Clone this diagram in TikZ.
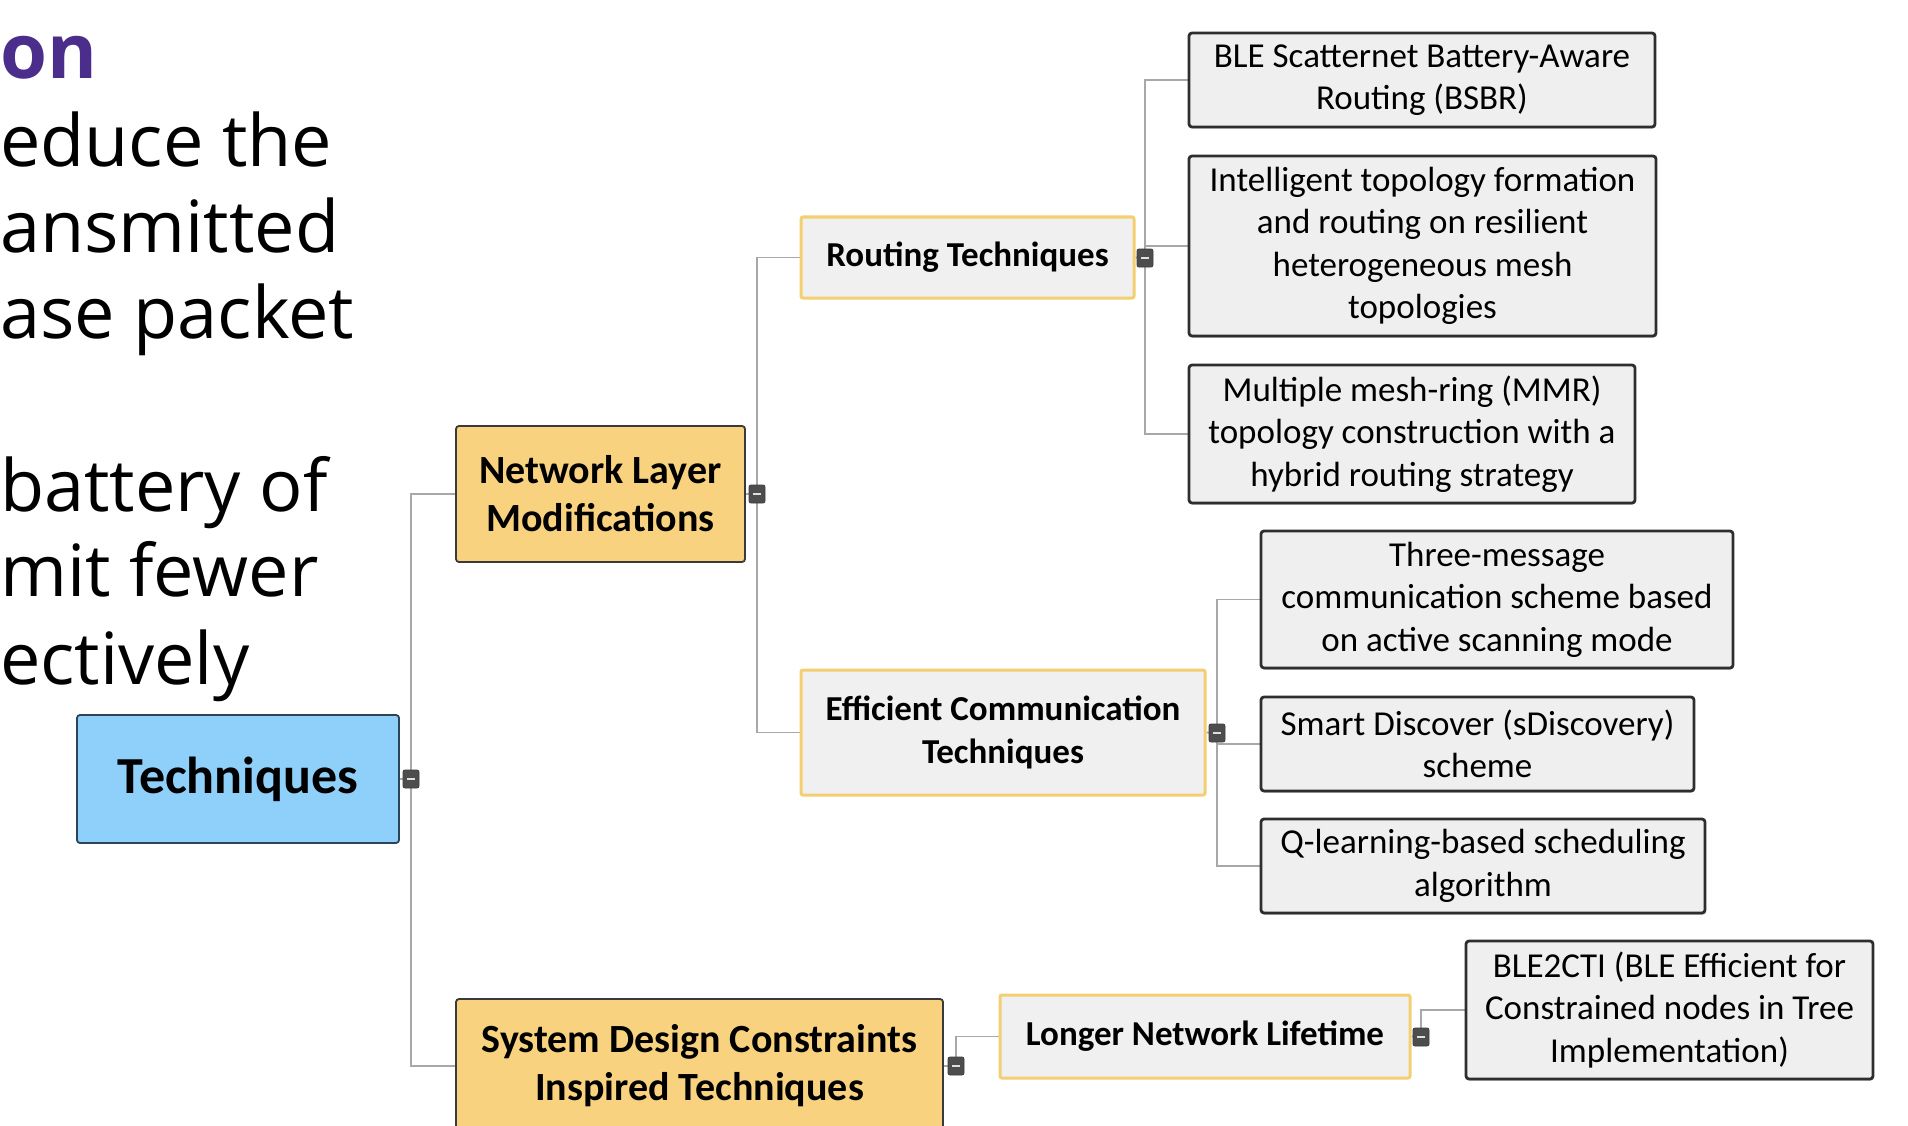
\documentclass[tikz,border=0pt]{standalone}
\usepackage{fontspec}
\setmainfont{Open Sans}
\newfontfamily\mmfont{Carlito}
\usetikzlibrary{shadows}
\pgfdeclarelayer{paper}
\pgfdeclarelayer{bg}
\pgfsetlayers{paper,bg,main}
\definecolor{purp}{HTML}{4B2D8C}
\definecolor{rootfill}{HTML}{8FD0FA}
\definecolor{rootdraw}{HTML}{2C4458}
\definecolor{lonefill}{HTML}{F8D27E}
\definecolor{lonedraw}{HTML}{3A3A3A}
\definecolor{ltwofill}{HTML}{F0F0F0}
\definecolor{ltwodraw}{HTML}{F3CF72}
\definecolor{leaffill}{HTML}{EFEFEF}
\definecolor{leafdraw}{HTML}{2E2E2E}
\definecolor{conncol}{HTML}{A8A8A8}
\definecolor{markcol}{HTML}{4D4D4D}
\begin{document}
\begin{tikzpicture}[x=1pt,y=-1pt,
 bodytext/.style={anchor=base west, inner sep=0pt, font=\fontsize{72}{86}\selectfont},
 rootbox/.style={draw=rootdraw, line width=1.8pt, fill=rootfill, rounded corners=3pt, align=center, inner sep=0pt, font=\mmfont\bfseries\fontsize{52}{60}\selectfont},
 lonebox/.style={draw=lonedraw, line width=1.8pt, fill=lonefill, rounded corners=3pt, align=center, inner sep=0pt, font=\mmfont\bfseries\fontsize{40}{48}\selectfont},
 ltwobox/.style={draw=ltwodraw, line width=3pt, fill=ltwofill, rounded corners=2pt, align=center, inner sep=0pt, font=\mmfont\bfseries\fontsize{35}{43}\selectfont},
 leafbox/.style={draw=leafdraw, line width=2.8pt, fill=leaffill, rounded corners=3pt, align=center, inner sep=0pt, font=\mmfont\fontsize{35}{42.5}\selectfont, drop shadow={shadow xshift=0.5pt, shadow yshift=-1.5pt, fill=black!60, opacity=0.6}},
 markbox/.style={fill=markcol, draw=markcol!80!black, line width=0.8pt, rounded corners=2pt, minimum width=16pt, minimum height=18pt, inner sep=0pt, path picture={\draw[white!75!gray, line width=2pt] ([xshift=-4pt]path picture bounding box.center) -- ([xshift=4pt]path picture bounding box.center);}},
 conn/.style={draw=conncol, line width=1.8pt},
]
\begin{pgfonlayer}{paper}
\fill[white] (0,0) rectangle (1908,1126);
\end{pgfonlayer}
\useasboundingbox (0,0) rectangle (1908,1126);

% slide text (left part cut by the slide edge in the source)
\node[anchor=base west, inner sep=0pt, text=purp, font=\bfseries\fontsize{76}{90}\selectfont] (head) at (0,79) {on};
\node[bodytext] (t1) at (0,167) {educe the};
\node[bodytext] (t2) at (0,252) {ansmitted};
\node[bodytext] (t3) at (0,338) {ase packet};
\node[bodytext] (t4) at (0,511) {battery of};
\node[bodytext] (t5) at (0,596) {mit fewer};
\node[bodytext] (t6) at (0,684) {ectively};

% mind map nodes
\node[rootbox, minimum width=322pt, minimum height=128pt] (root) at (238,779) {Techniques};
\node[lonebox, minimum width=289pt, minimum height=136pt] (net) at (600.5,494) {Network Layer\\Modifications};
\node[lonebox, minimum width=487pt, minimum height=134pt] (sys) at (699.5,1066) {System Design Constraints\\Inspired Techniques};
\node[ltwobox, minimum width=333pt, minimum height=81pt] (rout) at (967.5,257.5) {Routing Techniques};
\node[ltwobox, minimum width=404pt, minimum height=125pt] (eff) at (1003,732.5) {Efficient Communication\\Techniques};
\node[ltwobox, minimum width=410pt, minimum height=83pt] (life) at (1205,1036.5) {Longer Network Lifetime};
\node[leafbox, minimum width=466pt, minimum height=94pt] (bsbr) at (1422,80) {BLE Scatternet Battery-Aware\\Routing (BSBR)};
\node[leafbox, minimum width=467pt, minimum height=180pt] (intel) at (1422.5,246) {Intelligent topology formation\\and routing on resilient\\heterogeneous mesh\\topologies};
\node[leafbox, minimum width=446pt, minimum height=138pt] (mmr) at (1412,434) {Multiple mesh-ring (MMR)\\topology construction with a\\hybrid routing strategy};
\node[leafbox, minimum width=472pt, minimum height=137pt] (three) at (1497,599.5) {Three-message\\communication scheme based\\on active scanning mode};
\node[leafbox, minimum width=433pt, minimum height=94pt] (smart) at (1477.5,744) {Smart Discover (sDiscovery)\\scheme};
\node[leafbox, minimum width=444pt, minimum height=94pt] (qlearn) at (1483,866) {Q-learning-based scheduling\\algorithm};
\node[leafbox, minimum width=407pt, minimum height=138pt] (blect) at (1669.5,1010) {BLE2CTI (BLE Efficient for\\Constrained nodes in Tree\\Implementation)};

% collapse markers
\node[markbox] (mroot) at (411,779) {};
\node[markbox] (mnet) at (757,494) {};
\node[markbox] (msys) at (956,1066) {};
\node[markbox] (mrout) at (1145,258) {};
\node[markbox] (meff) at (1217,733) {};
\node[markbox] (mlife) at (1421,1037) {};

% connectors
\begin{pgfonlayer}{bg}
\draw[conn] (root.east) -- (mroot.center);
\draw[conn] (mroot.center) |- (net.west);
\draw[conn] (mroot.center) |- (sys.west);
\draw[conn] (net.east) -- (mnet.center);
\draw[conn] (mnet.center) |- (rout.west);
\draw[conn] (mnet.center) |- (eff.west);
\draw[conn] (sys.east) -- (msys.center);
\draw[conn] (msys.center) |- (life.west);
\draw[conn] (rout.east) -- (mrout.center);
\draw[conn] (mrout.center) |- (bsbr.west);
\draw[conn] (mrout.center) |- (intel.west);
\draw[conn] (mrout.center) |- (mmr.west);
\draw[conn] (eff.east) -- (meff.center);
\draw[conn] (meff.center) |- (three.west);
\draw[conn] (meff.center) |- (smart.west);
\draw[conn] (meff.center) |- (qlearn.west);
\draw[conn] (life.east) -- (mlife.center);
\draw[conn] (mlife.center) |- (blect.west);
\end{pgfonlayer}
\end{tikzpicture}
\end{document}
